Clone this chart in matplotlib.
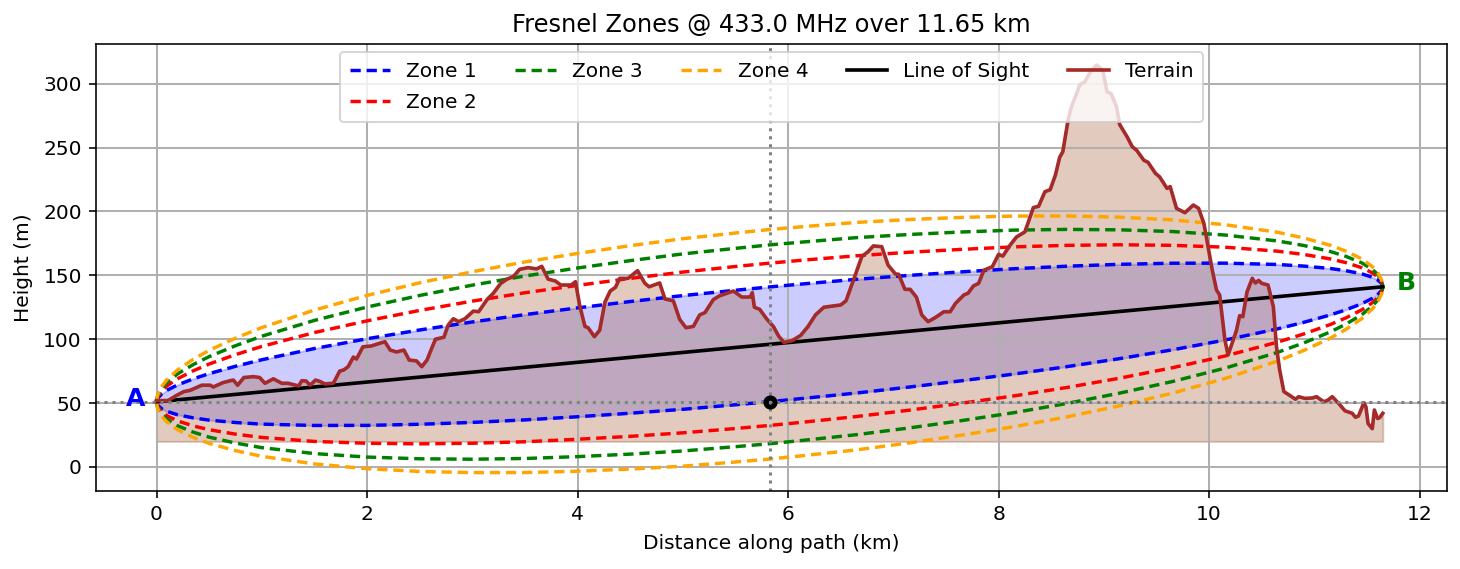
import matplotlib
matplotlib.use("Agg")
import matplotlib.pyplot as plt
import numpy as np

# path ends
los_x = [0, 11.65]
los_h = [51, 141]
mid_x = 5.825
mid_h = 51

# sample distances and zone half widths (m)
zone_x = [0, 0.01, 0.05, 0.1, 0.2, 0.35, 0.5, 0.75, 1, 1.5, 2, 2.5, 3, 3.5, 4, 4.5, 5, 5.5, 5.825,
          6.15, 6.65, 7.15, 7.65, 8.15, 8.65, 9.15, 9.65, 10.15, 10.65, 10.9, 11.15, 11.3, 11.45,
          11.55, 11.6, 11.64, 11.65]
zone1_half = [0, 2.6, 5.9, 8.3, 11.7, 15.3, 18.2, 22.0, 25.2, 30.1, 33.9, 36.9, 39.3, 41.2, 42.6, 43.7, 44.5, 44.8, 44.9,
              44.8, 44.5, 43.7, 42.6, 41.2, 39.3, 36.9, 33.9, 30.1, 25.2, 22.0, 18.2, 15.3, 11.7, 8.3, 5.9, 2.6, 0]
zone2_half = [0, 3.7, 8.3, 11.7, 16.5, 21.6, 25.7, 31.1, 35.6, 42.6, 47.9, 52.2, 55.6, 58.3, 60.2, 61.8, 62.9, 63.4, 63.5,
              63.4, 62.9, 61.8, 60.2, 58.3, 55.6, 52.2, 47.9, 42.6, 35.6, 31.1, 25.7, 21.6, 16.5, 11.7, 8.3, 3.7, 0]
zone3_half = [0, 4.5, 10.2, 14.4, 20.3, 26.5, 31.5, 38.1, 43.6, 52.1, 58.7, 63.9, 68.1, 71.4, 73.8, 75.7, 77.1, 77.6, 77.8,
              77.6, 77.1, 75.7, 73.8, 71.4, 68.1, 63.9, 58.7, 52.1, 43.6, 38.1, 31.5, 26.5, 20.3, 14.4, 10.2, 4.5, 0]
zone4_half = [0, 5.2, 11.8, 16.6, 23.4, 30.6, 36.4, 44.0, 50.4, 60.2, 67.8, 73.8, 78.6, 82.4, 85.2, 87.4, 89.0, 89.6, 89.8,
              89.6, 89.0, 87.4, 85.2, 82.4, 78.6, 73.8, 67.8, 60.2, 50.4, 44.0, 36.4, 30.6, 23.4, 16.6, 11.8, 5.2, 0]

terrain_x = [0, 0.11, 0.19, 0.26, 0.32, 0.43, 0.51, 0.54, 0.63, 0.70, 0.73, 0.77, 0.83, 0.92, 0.98, 1.03, 1.11, 1.19, 1.25,
             1.35, 1.38, 1.42, 1.46, 1.51, 1.55, 1.60, 1.68, 1.74, 1.78, 1.82, 1.87, 1.90, 1.96, 2.04, 2.12, 2.17, 2.22,
             2.28, 2.35, 2.40, 2.47, 2.52, 2.57, 2.60, 2.65, 2.73, 2.77, 2.82, 2.87, 2.93, 3.01, 3.06, 3.14, 3.20, 3.27,
             3.33, 3.39, 3.45, 3.53, 3.61, 3.66, 3.72, 3.79, 3.84, 3.94, 3.98, 4.02, 4.07, 4.10, 4.16, 4.21, 4.26, 4.31,
             4.36, 4.40, 4.48, 4.57, 4.64, 4.68, 4.78, 4.83, 4.91, 4.97, 5.03, 5.10, 5.16, 5.21, 5.29, 5.35, 5.48, 5.56,
             5.64, 5.66, 5.68, 5.73, 5.80, 5.86, 5.91, 5.96, 6.04, 6.12, 6.19, 6.26, 6.34, 6.50, 6.55, 6.62, 6.70, 6.76,
             6.81, 6.89, 6.95, 7.02, 7.05, 7.11, 7.16, 7.22, 7.27, 7.33, 7.40, 7.48, 7.54, 7.59, 7.67, 7.71, 7.76, 7.81,
             7.86, 7.94, 8.00, 8.04, 8.11, 8.17, 8.25, 8.33, 8.38, 8.44, 8.49, 8.54, 8.58, 8.61, 8.66, 8.69, 8.74, 8.77,
             8.82, 8.87, 8.93, 8.99, 9.03, 9.07, 9.12, 9.15, 9.22, 9.27, 9.31, 9.38, 9.42, 9.49, 9.53, 9.60, 9.63, 9.69,
             9.77, 9.85, 9.90, 9.95, 9.99, 10.03, 10.07, 10.10, 10.15, 10.18, 10.26, 10.29, 10.32, 10.36, 10.41, 10.44,
             10.47, 10.50, 10.56, 10.61, 10.64, 10.67, 10.71, 10.77, 10.82, 10.85, 10.91, 10.98, 11.02, 11.09, 11.13,
             11.17, 11.23, 11.29, 11.36, 11.39, 11.42, 11.47, 11.49, 11.51, 11.55, 11.57, 11.60, 11.62, 11.65]
terrain_h = [51.9, 52, 56, 59, 60, 64, 64, 62.6, 66, 67.5, 68, 64, 70, 70.7, 70, 65.5, 69, 65.5, 65.5,
             63.4, 67.5, 67.3, 64, 68, 67, 65, 65.5, 75, 76, 78.5, 86, 84.5, 94, 94.7, 96.8, 98, 91.5,
             90, 91.5, 83.7, 83, 78.5, 83.7, 90, 100, 101.5, 111, 116, 113.7, 116, 122, 121.5, 131, 136, 143.7,
             147, 149, 154.7, 156, 155, 157, 147, 145.5, 142.4, 142.4, 145, 126.5, 110, 109, 102, 107, 129, 137.7,
             140.6, 147.6, 147.6, 153.6, 143.7, 141, 144, 131.5, 130, 115.5, 109, 110, 119, 120.8, 131, 134, 137.7, 133,
             133, 136.4, 125, 123.4, 115.5, 110, 102.5, 97.5, 98.9, 103, 110, 119, 125, 126.8, 130, 146, 164.6, 168.5,
             173, 172.4, 158, 151, 150.8, 139, 139, 132.8, 119, 113.7, 117, 121.5, 121.5, 128, 134.6, 136, 141.6, 143.7,
             154, 156.7, 166.4, 165, 173.7, 180, 184, 203, 204, 215.4, 217, 228.5, 242.3, 246.7, 271.5, 281.4, 292, 299,
             301.5, 309, 314.5, 310.6, 293.7, 292, 282, 268, 258.5, 250.6, 248, 240, 238.4, 229.8, 227, 218, 219.4, 202.4,
             199, 205, 202.4, 190.7, 172.4, 154, 138.5, 134.6, 99.4, 87.6, 107, 118.4, 117.6, 137, 147.6, 144,
             146, 143.7, 142.4, 125.5, 94, 76, 59, 55.8, 53, 55, 53.7, 54, 55, 51, 52.4,
             55, 49.8, 44, 42, 38.9, 40, 50.3, 47, 34, 30, 44.6, 38, 38.6, 42]

zone_names = ["Zone 1", "Zone 2", "Zone 3", "Zone 4"]
zone_colors = ["blue", "red", "green", "orange"]
zone_halfs = [zone1_half, zone2_half, zone3_half, zone4_half]

fig, ax = plt.subplots(figsize=(1460 / 145, 569 / 145), dpi=145)

# dash pattern stretched a bit so the thicker line keeps the period of the original
dash = (0, (3.0, 1.7))
los_at = np.interp(zone_x, los_x, los_h)
for name, col, half in zip(zone_names, zone_colors, zone_halfs):
    half = np.array(half)
    ax.plot(zone_x, los_at + half, ls=dash, color=col, lw=1.7, label=name)
    ax.plot(zone_x, los_at - half, ls=dash, color=col, lw=1.7)
ax.fill_between(zone_x, los_at - np.array(zone1_half), los_at + np.array(zone1_half), color="blue", alpha=0.2)

ax.plot(los_x, los_h, color="black", lw=1.8, label="Line of Sight")
ax.plot(terrain_x, terrain_h, color="brown", lw=1.8, label="Terrain")
ax.fill_between(terrain_x, terrain_h, 20, color="sienna", alpha=0.3)

ax.axhline(mid_h, color="gray", ls=":", lw=1.5)
ax.axvline(mid_x, color="gray", ls=":", lw=1.5)
ax.plot([mid_x], [mid_h], "o", mfc="none", mec="black", mew=2.5, ms=4.5)

ax.text(-0.2, 53, "A", color="blue", fontsize=12.5, fontweight="bold", ha="center", va="center")
ax.text(11.87, 144, "B", color="green", fontsize=12.5, fontweight="bold", ha="center", va="center")

ax.set_xlim(-0.575, 12.26)
ax.set_ylim(-18.8, 331)
ax.set_xlabel("Distance along path (km)", labelpad=5)
ax.set_ylabel("Height (m)", labelpad=5)
ax.set_title("Fresnel Zones @ 433.0 MHz over 11.65 km", fontsize=12)
ax.grid(True, lw=1)
ax.legend(loc="upper center", ncol=5, labelspacing=0.6, borderpad=0.5, borderaxespad=0.4, columnspacing=1.92)

fig.subplots_adjust(left=96 / 1460, right=1447 / 1460, top=1 - 44 / 569, bottom=1 - 491 / 569)
fig.savefig("out.png")
